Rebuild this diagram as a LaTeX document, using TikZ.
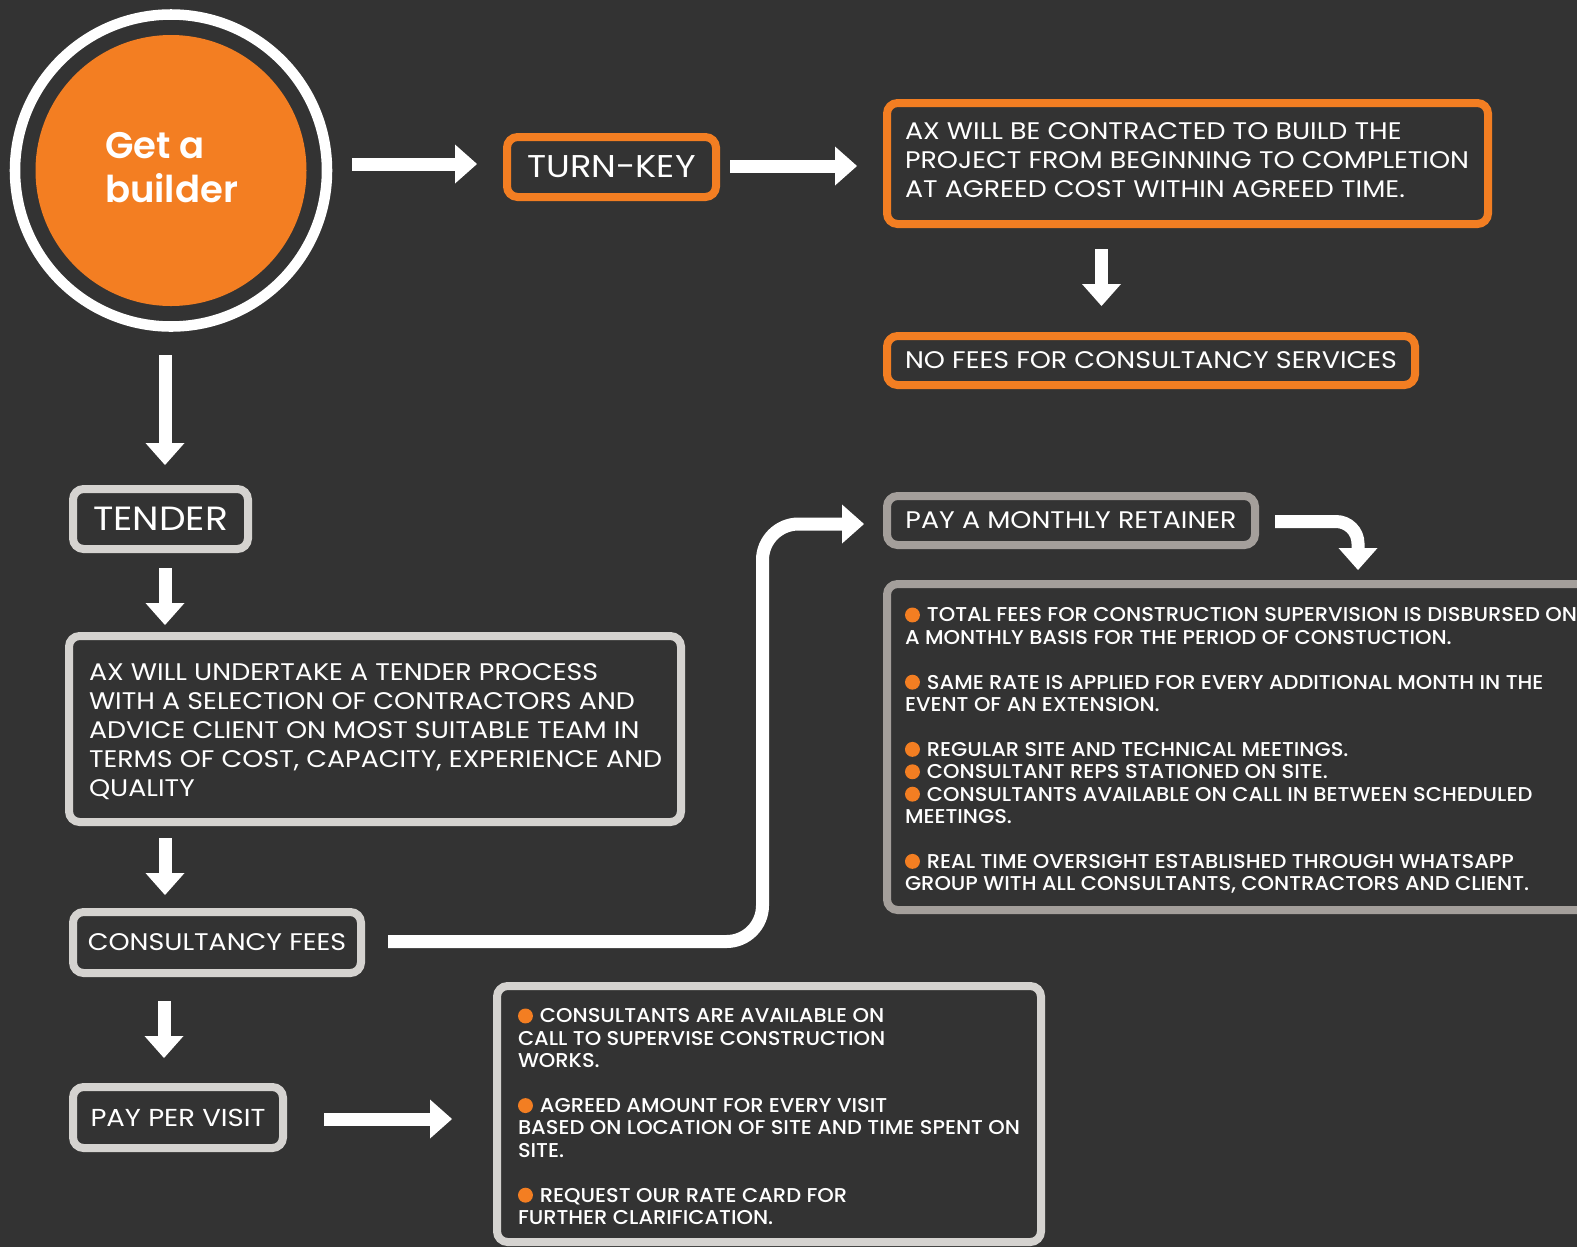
\documentclass[tikz,border=0pt]{standalone}
\usepackage{fontspec}
\setmainfont{Poppins}[FakeStretch=1.12]
\IfFontExistsTF{Poppins Medium}{\newfontfamily\fmed{Poppins Medium}[FakeStretch=1.05]}{\newfontfamily\fmed{Poppins}[FakeStretch=1.05]}
\IfFontExistsTF{Poppins SemiBold}{\newfontfamily\fsemi{Poppins SemiBold}}{\newfontfamily\fsemi{Poppins}}
\usetikzlibrary{arrows.meta}
\definecolor{bg}{HTML}{333333}
\definecolor{orng}{HTML}{F37E22}
\definecolor{lgrey}{HTML}{D5D3D0}
\definecolor{mgrey}{HTML}{A49F9B}
\newcommand{\bul}{\tikz[baseline=0pt]\fill[orng](5.6pt,5.25pt) circle (5.6pt);\hspace{5.25pt}}
\tikzset{
  boxbase/.style={line width=6pt, rounded corners=8pt, inner sep=0pt, outer sep=0pt, text=white, align=center},
  obox/.style={boxbase, draw=orng},
  gbox/.style={boxbase, draw=lgrey},
  mbox/.style={boxbase, draw=mgrey},
  txt/.style={text=white, inner sep=0pt, outer sep=0pt, anchor=north west, align=left},
  arr/.style={white, line width=9.75pt, -{Triangle[width=29.25pt,length=16.5pt,line width=0pt,fill=white]}},
  bigtxt/.style={font=\fontsize{18pt}{21.4pt}\selectfont},
  midtxt/.style={font=\fontsize{18pt}{21.75pt}\selectfont},
  bultxt/.style={font=\fmed\fontsize{15pt}{16.8pt}\selectfont},
}
\begin{document}
\begin{tikzpicture}[x=0.75pt,y=-0.75pt]
\useasboundingbox (0,0) rectangle (1577,1247);
\fill[bg] (0,0) rectangle (1577,1247);
\clip (0,0) rectangle (1577,1247);

% start circle
\node[circle, fill=orng, minimum size=203.25pt, inner sep=0pt, outer sep=0pt] (core) at (171,170.5) {};
\node[circle, draw=white, line width=7.9pt, minimum size=234pt, inner sep=0pt, outer sep=0pt] (ring) at (171,170.5) {};
\node[txt, font=\fsemi\fontsize{27.75pt}{33pt}\selectfont] (gtxt) at (105,132) {Get a\\builder};

% turn-key branch
\node[obox, minimum width=156.75pt, minimum height=45pt, font=\fontsize{23.6pt}{28pt}\selectfont] (tk) at (611.5,167) {TURN-KEY};
\node[obox, minimum width=450.75pt, minimum height=90.75pt] (ax) at (1187.5,163.5) {};
\node[txt, bigtxt] (axt) at (905,123) {AX WILL BE CONTRACTED TO BUILD THE\\PROJECT FROM BEGINNING TO COMPLETION\\AT AGREED COST WITHIN AGREED TIME.};
\node[obox, minimum width=396pt, minimum height=36.75pt, midtxt] (nofee) at (1151,360.5) {NO FEES FOR CONSULTANCY SERVICES};

% tender branch
\node[gbox, minimum width=131.25pt, minimum height=45pt, font=\fontsize{25.2pt}{30pt}\selectfont] (tender) at (160.5,519) {TENDER};
\node[gbox, minimum width=459pt, minimum height=139.5pt] (tdesc) at (375,729) {};
\node[txt, font=\fontsize{18pt}{21.75pt}\selectfont] (tdt) at (89,664) {AX WILL UNDERTAKE A TENDER PROCESS\\WITH A SELECTION OF CONTRACTORS AND\\ADVICE CLIENT ON MOST SUITABLE TEAM IN\\TERMS OF COST, CAPACITY, EXPERIENCE AND\\QUALITY};
\node[gbox, minimum width=216pt, minimum height=45.75pt, midtxt] (cons) at (217,942.5) {CONSULTANCY FEES};
\node[gbox, minimum width=157.5pt, minimum height=45.75pt, font=\fontsize{18.4pt}{22pt}\selectfont] (ppv) at (178,1117.5) {PAY PER VISIT};
\node[gbox, minimum width=408pt, minimum height=192pt] (bot) at (769,1114) {};
\node[txt, bultxt] (bott) at (518,1008.5) {\bul CONSULTANTS ARE AVAILABLE ON\\CALL TO SUPERVISE CONSTRUCTION\\WORKS.\\[16.8pt]\bul AGREED AMOUNT FOR EVERY VISIT\\BASED ON LOCATION OF SITE AND TIME SPENT ON\\SITE.\\[16.8pt]\bul REQUEST OUR RATE CARD FOR\\FURTHER CLARIFICATION.};

% retainer branch
\node[mbox, minimum width=276pt, minimum height=36.75pt, midtxt] (ret) at (1071,520.5) {PAY A MONTHLY RETAINER};
\node[mbox, minimum width=534.75pt, minimum height=244.5pt] (big) at (1243.5,747) {};
\node[txt, bultxt] (bigt) at (905,607.5) {\bul TOTAL FEES FOR CONSTRUCTION SUPERVISION IS DISBURSED ON\\A MONTHLY BASIS FOR THE PERIOD OF CONSTUCTION.\\[16.8pt]\bul SAME RATE IS APPLIED FOR EVERY ADDITIONAL MONTH IN THE\\EVENT OF AN EXTENSION.\\[16.8pt]\bul REGULAR SITE AND TECHNICAL MEETINGS.\\\bul CONSULTANT REPS STATIONED ON SITE.\\\bul CONSULTANTS AVAILABLE ON CALL IN BETWEEN SCHEDULED\\MEETINGS.\\[16.8pt]\bul REAL TIME OVERSIGHT ESTABLISHED THROUGH WHATSAPP\\GROUP WITH ALL CONSULTANTS, CONTRACTORS AND CLIENT.};

% connectors
\draw[arr] ([shift={(25,-6.5)}]ring.east) -- ([shift={(-30,-3)}]tk.west);
\draw[arr] ([shift={(14,-1)}]tk.east) -- ([shift={(-30,2.5)}]ax.west);
\draw[arr] ([shift={(-86,25)}]ax.south) -- ([shift={(-49.5,-30)}]nofee.north);
\draw[arr] ([shift={(-6,28.5)}]ring.south) -- ([shift={(4.5,-24)}]tender.north);
\draw[arr] ([shift={(4.5,19)}]tender.south) -- ([shift={(-210,-11)}]tdesc.north);
\draw[arr] ([shift={(-210,16)}]tdesc.south) -- ([shift={(-52,-17)}]cons.north);
\draw[arr] ([shift={(-53,28)}]cons.south) -- ([shift={(-14,-29)}]ppv.north);
\draw[arr] ([shift={(41,1.5)}]ppv.east) -- ([shift={(-45,5)}]bot.west);
\coordinate (a9m) at (762.5,730);
\draw[arr, rounded corners=27pt] ([shift={(27,-1)}]cons.east) -| (a9m) |- ([shift={(-23,3.5)}]ret.west);
\draw[arr, rounded corners=16.5pt] ([shift={(20,1)}]ret.east) -| ([shift={(114.5,-14)}]big.north);
\end{tikzpicture}
\end{document}
